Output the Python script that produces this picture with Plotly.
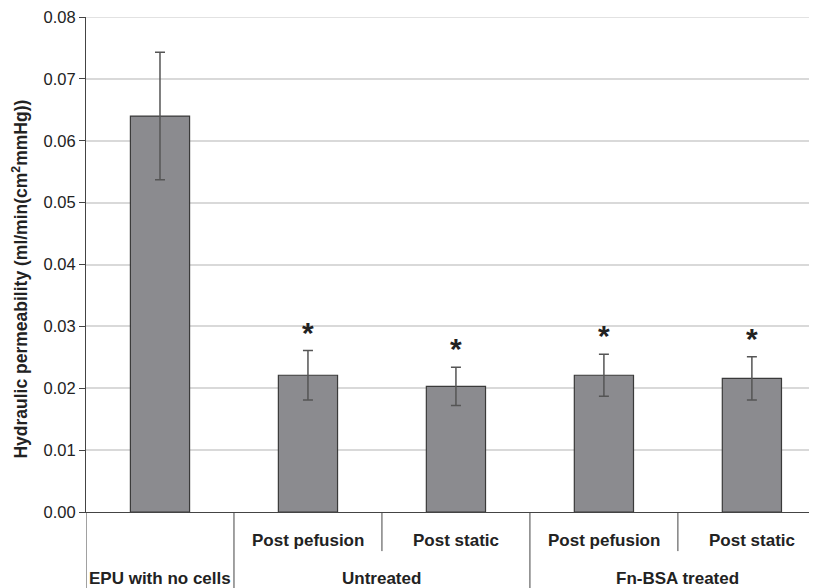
import plotly.graph_objects as go

# ---- data ----
group_labels = ["EPU with no cells", "Untreated", "Untreated", "Fn-BSA treated", "Fn-BSA treated"]
sub_labels = ["", "Post pefusion", "Post static", "Post pefusion", "Post static"]
means = [0.0640, 0.0221, 0.0203, 0.0221, 0.0216]
errors = [0.0103, 0.0040, 0.0031, 0.0034, 0.0035]
significant = [False, True, True, True, True]
y_ticks = [0.00, 0.01, 0.02, 0.03, 0.04, 0.05, 0.06, 0.07, 0.08]
y_title = "Hydraulic permeability (ml/min(cm<sup>2</sup>mmHg))"

FONT = "Liberation Sans, Arial, sans-serif"
TXT = "#222222"
x_idx = list(range(len(means)))

fig = go.Figure()
fig.add_trace(go.Bar(
    x=x_idx, y=means, width=0.4,
    marker=dict(color="#8b8b8f", line=dict(color="#3a3a3a", width=1.2)),
    error_y=dict(type="data", array=errors, visible=True, color="#555555",
                 thickness=1.5, width=5),
    showlegend=False, hoverinfo="skip",
))

annotations = []
for i, (m, e, s) in enumerate(zip(means, errors, significant)):
    if s:
        annotations.append(dict(x=i, y=m + e, xref="x", yref="y", text="<b>*</b>",
                                showarrow=False, yanchor="bottom", yshift=0,
                                font=dict(family=FONT, size=30, color=TXT)))

shapes = []
n = len(means)
line_col = "#444444"
# top gridline (at the edge of the range)
shapes.append(dict(type="line", xref="paper", yref="y", x0=0, x1=1,
                   y0=y_ticks[-1], y1=y_ticks[-1], layer="below",
                   line=dict(color="#d9d9d9", width=1.5)))
for b in range(n - 1):
    xb = b + 0.5
    full = group_labels[b] != group_labels[b + 1]
    shapes.append(dict(type="line", xref="x", yref="paper", x0=xb, x1=xb,
                       y0=0, y1=-0.17 if full else -0.079,
                       line=dict(color=line_col, width=1)))
shapes.append(dict(type="line", xref="x", yref="paper", x0=-0.5, x1=-0.5,
                   y0=0, y1=-0.17, line=dict(color=line_col, width=1)))

for i, s in enumerate(sub_labels):
    if s:
        annotations.append(dict(x=i, y=-0.057, xref="x", yref="paper", text=f"<b>{s}</b>",
                                showarrow=False, yanchor="middle",
                                font=dict(family=FONT, size=17, color=TXT)))
groups = []
for i, g in enumerate(group_labels):
    if groups and groups[-1][0] == g:
        groups[-1][2] = i
    else:
        groups.append([g, i, i])
for g, a, b in groups:
    annotations.append(dict(x=(a + b) / 2, y=-0.134, xref="x", yref="paper", text=f"<b>{g}</b>",
                            showarrow=False, yanchor="middle",
                            font=dict(family=FONT, size=17, color=TXT)))

annotations.append(dict(x=-0.09, y=0.47, xref="paper", yref="paper", text=f"<b>{y_title}</b>",
                        showarrow=False, textangle=-90, xanchor="center", yanchor="middle",
                        font=dict(family=FONT, size=17.5, color=TXT)))

fig.update_layout(
    width=809, height=580,
    margin=dict(l=78, r=0, t=9, b=76),
    paper_bgcolor="white", plot_bgcolor="white",
    shapes=shapes, annotations=annotations,
    xaxis=dict(range=[-0.5, 4.44], showticklabels=False, ticks="", showgrid=False,
               zeroline=False, showline=True, linecolor=line_col, linewidth=1),
    yaxis=dict(range=[0, 0.08001], tickvals=y_ticks, ticktext=[f"{v:.2f}" for v in y_ticks],
               showgrid=True, gridcolor="#d9d9d9", gridwidth=1.5,
               zeroline=False, showline=True, linecolor=line_col, linewidth=1,
               ticks="outside", ticklen=6, tickcolor=line_col, ticklabeloverflow="allow",
               tickfont=dict(family=FONT, size=16.5, color=TXT)),
)

fig.write_html("out.html")
